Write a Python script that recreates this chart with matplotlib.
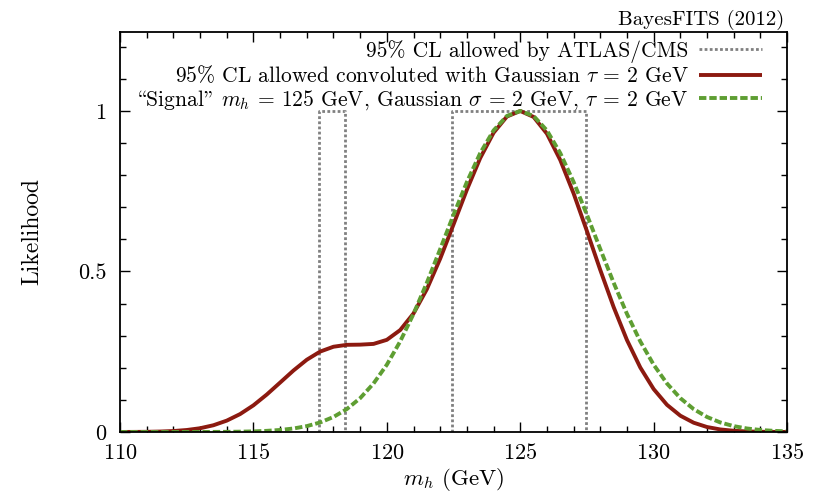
import matplotlib
matplotlib.use("Agg")
import matplotlib.pyplot as plt
from matplotlib.ticker import MultipleLocator, FixedLocator, FixedFormatter

plt.rcParams['font.family'] = ['cmr10', 'DejaVu Serif']
plt.rcParams['mathtext.fontset'] = 'cm'
plt.rcParams['axes.formatter.use_mathtext'] = True

# ---- data ----
mh = [110.0, 110.5, 111.0, 111.5, 112.0, 112.5, 113.0, 113.5, 114.0, 114.5,
      115.0, 115.5, 116.0, 116.5, 117.0, 117.5, 118.0, 118.5, 119.0, 119.5,
      120.0, 120.5, 121.0, 121.5, 122.0, 122.5, 123.0, 123.5, 124.0, 124.5,
      125.0, 125.5, 126.0, 126.5, 127.0, 127.5, 128.0, 128.5, 129.0, 129.5,
      130.0, 130.5, 131.0, 131.5, 132.0, 132.5, 133.0, 133.5, 134.0, 134.5,
      135.0]
convoluted = [0.0001, 0.0003, 0.0006, 0.0014, 0.0030, 0.0062, 0.0117, 0.0210, 0.0354, 0.0558,
              0.0831, 0.1167, 0.1540, 0.1915, 0.2251, 0.2505, 0.2656, 0.2715, 0.2721, 0.2744,
              0.2871, 0.3175, 0.3693, 0.4449, 0.5400, 0.6467, 0.7547, 0.8534, 0.9321, 0.9827,
              1.0000, 0.9815, 0.9292, 0.8472, 0.7431, 0.6256, 0.5046, 0.3892, 0.2863, 0.2008,
              0.1337, 0.0846, 0.0508, 0.0289, 0.0155, 0.0079, 0.0038, 0.0017, 0.0007, 0.0003,
              0.0001]
signal = [0.0000, 0.0000, 0.0000, 0.0000, 0.0000, 0.0001, 0.0001, 0.0003, 0.0005, 0.0010,
          0.0019, 0.0036, 0.0063, 0.0109, 0.0183, 0.0297, 0.0468, 0.0713, 0.1054, 0.1510,
          0.2096, 0.2821, 0.3679, 0.4650, 0.5698, 0.6766, 0.7788, 0.8688, 0.9394, 0.9845,
          1.0000, 0.9845, 0.9394, 0.8688, 0.7788, 0.6766, 0.5698, 0.4650, 0.3679, 0.2821,
          0.2096, 0.1510, 0.1054, 0.0713, 0.0468, 0.0297, 0.0183, 0.0109, 0.0063, 0.0036,
          0.0019]
allowed_lo = [117.45, 122.45]
allowed_hi = [118.45, 127.45]
allowed_height = 1.0

xticks = [110, 115, 120, 125, 130, 135]
yticks = [0, 0.5, 1]
yticklabels = ['0', '0.5', '1']

labels = ['95% CL allowed by ATLAS/CMS',
          r'95% CL allowed convoluted with Gaussian $\tau$ = 2 GeV',
          '\\Signal" $m_h$ = 125 GeV, Gaussian $\\sigma$ = 2 GeV, $\\tau$ = 2 GeV']

# ---- figure ----
fig = plt.figure(figsize=(8.25, 4.97), dpi=100)
ax = fig.add_axes([0.1455, 0.1308, 0.8085, 0.8048])

gray = '#808080'
red = '#8c1a10'
green = '#5e9e32'

h0 = None
for lo, hi in zip(allowed_lo, allowed_hi):
    h0, = ax.plot([lo, lo, hi, hi], [0, allowed_height, allowed_height, 0],
                  color=gray, lw=2.0, linestyle=(0, (1.0, 0.85)),
                  dash_capstyle='butt')
h1, = ax.plot(mh, convoluted, color=red, lw=2.8, solid_capstyle='butt')
h2, = ax.plot(mh, signal, color=green, lw=2.8, linestyle=(0, (1.9, 0.75)),
              dash_capstyle='butt')

ax.set_xlim(110, 135)
ax.set_ylim(0, 1.246)
ax.xaxis.set_major_locator(FixedLocator(xticks))
ax.xaxis.set_minor_locator(MultipleLocator(1))
ax.yaxis.set_major_locator(FixedLocator(yticks))
ax.yaxis.set_major_formatter(FixedFormatter(yticklabels))
ax.yaxis.set_minor_locator(MultipleLocator(0.1))
ax.tick_params(which='both', direction='in', top=True, right=True, width=1.0,
               colors='black')
ax.tick_params(which='major', length=7, labelsize=16)
ax.tick_params(axis='x', which='major', pad=8)
ax.tick_params(axis='y', which='major', pad=10)
ax.tick_params(which='minor', length=4)
for s in ax.spines.values():
    s.set_linewidth(1.3)

ax.set_xlabel('$m_h$ (GeV)', fontsize=16.5, labelpad=2)
ax.set_ylabel('Likelihood', fontsize=17, labelpad=25)

leg = ax.legend([h0, h1, h2], labels, loc='upper right', markerfirst=False,
                frameon=False, fontsize=15.5, handlelength=2.93, handletextpad=0.47,
                labelspacing=0.08, borderaxespad=0, borderpad=0,
                bbox_to_anchor=(0.962, 0.98))

fig.text(0.951, 0.96, 'BayesFITS (2012)', ha='right', va='center', fontsize=15)

fig.savefig('out.png', dpi=100)
